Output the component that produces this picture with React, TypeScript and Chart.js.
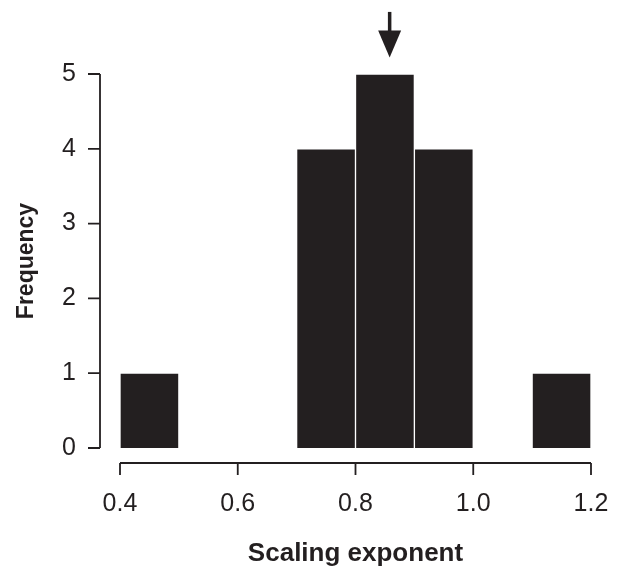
import React, { useEffect, useRef } from "react";
import { Chart, registerables } from "chart.js";

Chart.register(...registerables);

const binStarts = [0.4, 0.5, 0.6, 0.7, 0.8, 0.9, 1.0, 1.1];
const binWidth = 0.1;
const frequencies = [1, 0, 0, 4, 5, 4, 0, 1];
const yTicks = [0, 1, 2, 3, 4, 5];
const xTicks = [0.4, 0.6, 0.8, 1.0, 1.2];
const arrowX = 0.858;
const arrowTopY = 5.83;
const arrowTipY = 5.22;

const INK = "#231f20";
const FONT = "'Liberation Sans', Arial, Helvetica, sans-serif";

const rAxesPlugin = {
  id: "rAxes",
  afterDraw(chart: any) {
    const { ctx } = chart;
    const x = chart.scales.x;
    const y = chart.scales.y;
    ctx.save();
    ctx.strokeStyle = INK;
    ctx.fillStyle = INK;
    ctx.lineWidth = 1.8;
    // y axis (detached)
    const axX = x.left - 20;
    ctx.beginPath();
    ctx.moveTo(axX, y.getPixelForValue(yTicks[0]));
    ctx.lineTo(axX, y.getPixelForValue(yTicks[yTicks.length - 1]));
    for (const t of yTicks) {
      const py = y.getPixelForValue(t);
      ctx.moveTo(axX - 12, py);
      ctx.lineTo(axX, py);
    }
    ctx.stroke();
    // x axis (detached)
    const axY = y.getPixelForValue(0) + 15;
    ctx.beginPath();
    ctx.moveTo(x.getPixelForValue(xTicks[0]), axY);
    ctx.lineTo(x.getPixelForValue(xTicks[xTicks.length - 1]), axY);
    for (const t of xTicks) {
      const px = x.getPixelForValue(t);
      ctx.moveTo(px, axY);
      ctx.lineTo(px, axY + 12);
    }
    ctx.stroke();
    // arrow
    const ax = x.getPixelForValue(arrowX);
    const top = y.getPixelForValue(arrowTopY);
    const tip = y.getPixelForValue(arrowTipY);
    const headH = 27;
    const headW = 11.5;
    ctx.lineWidth = 3.5;
    ctx.beginPath();
    ctx.moveTo(ax, top);
    ctx.lineTo(ax, tip - headH + 2);
    ctx.stroke();
    ctx.beginPath();
    ctx.moveTo(ax, tip);
    ctx.lineTo(ax - headW, tip - headH);
    ctx.lineTo(ax + headW, tip - headH);
    ctx.closePath();
    ctx.fill();
    ctx.restore();
  },
};

export default function App() {
  const ref = useRef<HTMLCanvasElement>(null);
  useEffect(() => {
    if (!ref.current) return;
    const chart = new Chart(ref.current, {
      type: "bar",
      data: {
        datasets: [
          {
            data: binStarts.map((b, i) => ({ x: b + binWidth / 2, y: frequencies[i] })),
            backgroundColor: INK,
            borderColor: "#ffffff",
            borderWidth: 1,
            barPercentage: 1,
            categoryPercentage: 1,
          },
        ],
      },
      options: {
        animation: false,
        responsive: false,
        maintainAspectRatio: false,
        layout: { padding: { top: 74, right: 28, left: 0, bottom: 0 } },
        plugins: { legend: { display: false }, tooltip: { enabled: false } },
        scales: {
          x: {
            type: "linear",
            min: 0.4,
            max: 1.2,
            offset: false,
            grid: { display: false, drawTicks: false },
            border: { display: false },
            afterFit: (s: any) => {
              s.height = 124;
              s.paddingLeft = 0;
              s.paddingRight = 0;
            },
            afterBuildTicks: (s: any) => {
              s.ticks = xTicks.map((v) => ({ value: v }));
            },
            ticks: {
              padding: 41,
              maxRotation: 0,
              minRotation: 0,
              autoSkip: false,
              color: INK,
              font: { family: FONT, size: 25 },
              callback: (v: any) => Number(v).toFixed(1),
            },
            title: {
              display: true,
              text: "Scaling exponent",
              color: INK,
              font: { family: FONT, size: 26, weight: "bold" },
              padding: { top: 0, bottom: 3 },
            },
          },
          y: {
            min: 0,
            max: 5,
            grid: { display: false, drawTicks: false },
            border: { display: false },
            afterFit: (s: any) => {
              s.width = 120;
              s.paddingTop = 0;
              s.paddingBottom = 0;
            },
            afterBuildTicks: (s: any) => {
              s.ticks = yTicks.map((v) => ({ value: v }));
            },
            ticks: {
              padding: 44,
              color: INK,
              font: { family: FONT, size: 25 },
            },
            title: {
              display: true,
              text: "Frequency",
              color: INK,
              font: { family: FONT, size: 23, weight: "bold" },
              padding: { top: 13, bottom: 0 },
            },
          },
        },
      },
      plugins: [rAxesPlugin],
    });
    return () => chart.destroy();
  }, []);
  return (
    <div style={{ position: "fixed", left: 0, top: 0, width: 619, height: 572, background: "#fff" }}>
      <canvas ref={ref} width={619} height={572} style={{ display: "block", width: 619, height: 572 }} />
    </div>
  );
}
